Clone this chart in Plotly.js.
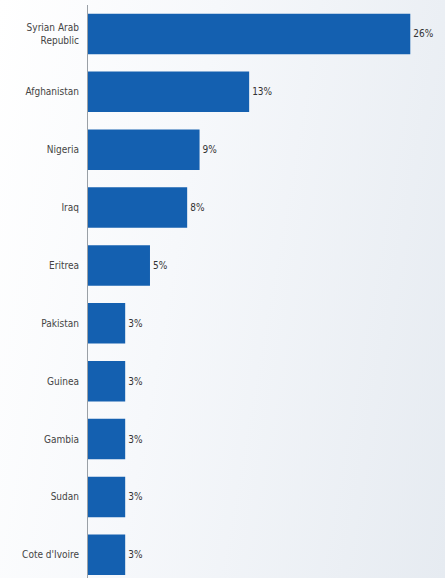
<!DOCTYPE html>
<html><head><meta charset="utf-8">
<script src="https://cdn.plot.ly/plotly-3.0.1.min.js"></script>
<style>
html,body{margin:0;padding:0;}
body{width:445px;height:578px;background:linear-gradient(100deg,#ffffff 0%,#f6f8fb 40%,#e6ebf1 100%);}
#chart{width:445px;height:578px;}
</style></head>
<body><div id="chart"></div>
<script>
const countries = ["Syrian Arab<br>Republic","Afghanistan","Nigeria","Iraq","Eritrea","Pakistan","Guinea","Gambia","Sudan","Cote d'Ivoire"];
const shares = [26,13,9,8,5,3,3,3,3,3];

const trace = {
  type:'bar', orientation:'h',
  y: countries, x: shares,
  marker:{color:'#1460b0', line:{width:0}},
  width:0.7,
  text: shares.map(v=>v+'%'),
  textposition:'outside',
  textfont:{family:'"DejaVu Sans Condensed", "Liberation Sans Narrow", Arial, sans-serif', size:10, color:'#333'},
  cliponaxis:false,
  hoverinfo:'none'
};
const layout = {
  width:445, height:578,
  margin:{l:88, r:0, t:5, b:0},
  paper_bgcolor:'rgba(0,0,0,0)', plot_bgcolor:'rgba(0,0,0,0)',
  showlegend:false,
  xaxis:{range:[0,28.8], visible:false, fixedrange:true},
  yaxis:{type:'category', categoryarray:countries, range:[9.4,-0.5], showline:true, linecolor:'#9aa0a6', linewidth:1,
    showgrid:false, zeroline:false, ticks:'', ticklabelstandoff:6,
    tickfont:{family:'"DejaVu Sans Condensed", "Liberation Sans Narrow", Arial, sans-serif', size:10, color:'#444'}}
};
Plotly.newPlot('chart',[trace],layout,{staticPlot:true});
</script></body></html>
